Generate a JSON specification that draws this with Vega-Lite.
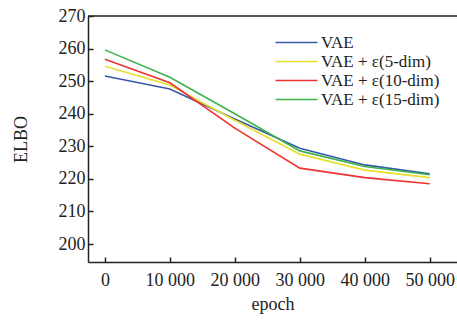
{
  "$schema": "https://vega.github.io/schema/vega-lite/v6.json",
  "width": 369,
  "height": 246,
  "autosize": {"type": "none"},
  "padding": {"left": 88, "top": 16, "right": 0, "bottom": 58},
  "background": "white",
  "config": {
    "view": {"stroke": null},
    "font": "Liberation Serif"
  },
  "data": {
    "values": [
      {"epoch": 0, "series": "VAE", "elbo": 251.6},
      {"epoch": 10000, "series": "VAE", "elbo": 247.6},
      {"epoch": 20000, "series": "VAE", "elbo": 238.4},
      {"epoch": 30000, "series": "VAE", "elbo": 229.4},
      {"epoch": 40000, "series": "VAE", "elbo": 224.3},
      {"epoch": 50000, "series": "VAE", "elbo": 221.6},
      {"epoch": 0, "series": "VAE + ε(5-dim)", "elbo": 254.6},
      {"epoch": 10000, "series": "VAE + ε(5-dim)", "elbo": 248.8},
      {"epoch": 20000, "series": "VAE + ε(5-dim)", "elbo": 238.0},
      {"epoch": 30000, "series": "VAE + ε(5-dim)", "elbo": 227.6},
      {"epoch": 40000, "series": "VAE + ε(5-dim)", "elbo": 222.7},
      {"epoch": 50000, "series": "VAE + ε(5-dim)", "elbo": 220.4},
      {"epoch": 0, "series": "VAE + ε(10-dim)", "elbo": 256.7},
      {"epoch": 10000, "series": "VAE + ε(10-dim)", "elbo": 249.5},
      {"epoch": 20000, "series": "VAE + ε(10-dim)", "elbo": 235.6},
      {"epoch": 30000, "series": "VAE + ε(10-dim)", "elbo": 223.3},
      {"epoch": 40000, "series": "VAE + ε(10-dim)", "elbo": 220.4},
      {"epoch": 50000, "series": "VAE + ε(10-dim)", "elbo": 218.5},
      {"epoch": 0, "series": "VAE + ε(15-dim)", "elbo": 259.6},
      {"epoch": 10000, "series": "VAE + ε(15-dim)", "elbo": 251.2},
      {"epoch": 20000, "series": "VAE + ε(15-dim)", "elbo": 240.0},
      {"epoch": 30000, "series": "VAE + ε(15-dim)", "elbo": 228.6},
      {"epoch": 40000, "series": "VAE + ε(15-dim)", "elbo": 223.8},
      {"epoch": 50000, "series": "VAE + ε(15-dim)", "elbo": 221.3}
    ]
  },
  "layer": [
    {
      "mark": {"type": "line", "strokeWidth": 1.6},
      "encoding": {
        "x": {
          "field": "epoch", "type": "quantitative",
          "scale": {"domain": [-2600, 54200], "nice": false, "zero": false},
          "axis": {
            "values": [0, 10000, 20000, 30000, 40000, 50000],
            "labelExpr": "replace(format(datum.value, ','), ',', ' ')",
            "labelOverlap": false,
            "title": "epoch",
            "grid": false,
            "domainColor": "#222", "domainWidth": 1.5,
            "tickColor": "#222", "tickSize": -5, "tickWidth": 1.5,
            "labelFont": "Liberation Serif", "labelFontSize": 18, "labelColor": "#222",
            "labelPadding": 14,
            "titleFont": "Liberation Serif", "titleFontSize": 18, "titleFontWeight": "normal", "titleColor": "#222",
            "titlePadding": 6
          }
        },
        "y": {
          "field": "elbo", "type": "quantitative",
          "scale": {"domain": [194.5, 270], "nice": false, "zero": false},
          "axis": {
            "values": [200, 210, 220, 230, 240, 250, 260, 270],
            "labelOverlap": false,
            "labelBound": false,
            "title": "ELBO",
            "grid": false,
            "domainColor": "#222", "domainWidth": 1.5,
            "tickColor": "#222", "tickSize": -5, "tickWidth": 1.5,
            "labelFont": "Liberation Serif", "labelFontSize": 18, "labelColor": "#222",
            "labelPadding": 8,
            "titleFont": "Liberation Serif", "titleFontSize": 18, "titleFontWeight": "normal", "titleColor": "#222",
            "titlePadding": 28
          }
        },
        "color": {
          "field": "series", "type": "nominal",
          "sort": ["VAE", "VAE + ε(5-dim)", "VAE + ε(10-dim)", "VAE + ε(15-dim)"],
          "scale": {
            "domain": ["VAE", "VAE + ε(5-dim)", "VAE + ε(10-dim)", "VAE + ε(15-dim)"],
            "range": ["#3558a8", "#e6df2c", "#ee3232", "#3db24a"]
          },
          "legend": {
            "title": null,
            "orient": "none",
            "legendX": 200,
            "legendY": 18,
            "symbolType": "M-3,0H3",
            "symbolSize": 196,
            "symbolStrokeWidth": 1.6,
            "labelFont": "Liberation Serif",
            "labelFontSize": 17,
            "labelColor": "#222",
            "labelOffset": 16,
            "labelLimit": 300,
            "rowPadding": 1
          }
        }
      }
    },
    {
      "mark": {"type": "rule", "color": "#222", "strokeWidth": 1.5},
      "data": {"values": [{"elbo": 270}]},
      "encoding": {
        "y": {
          "field": "elbo", "type": "quantitative",
          "axis": {
            "values": [200, 210, 220, 230, 240, 250, 260, 270],
            "labelOverlap": false,
            "labelBound": false,
            "title": "ELBO",
            "grid": false,
            "domainColor": "#222", "domainWidth": 1.5,
            "tickColor": "#222", "tickSize": -5, "tickWidth": 1.5,
            "labelFont": "Liberation Serif", "labelFontSize": 18, "labelColor": "#222",
            "labelPadding": 8,
            "titleFont": "Liberation Serif", "titleFontSize": 18, "titleFontWeight": "normal", "titleColor": "#222",
            "titlePadding": 28
          }
        }
      }
    }
  ]
}
